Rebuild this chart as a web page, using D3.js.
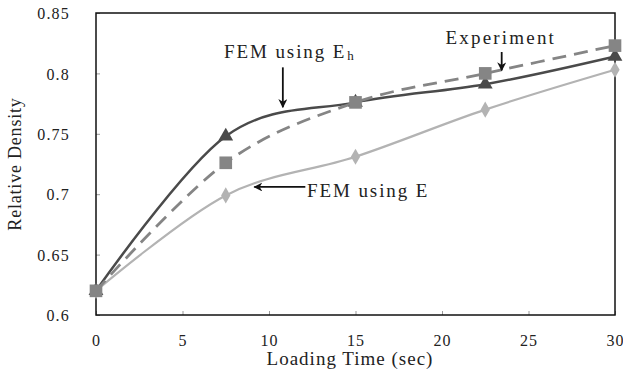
<!DOCTYPE html>
<html>
<head>
<meta charset="utf-8">
<script src="https://cdn.jsdelivr.net/npm/d3@7"></script>
<style>
  body { margin: 0; background: #fff; }
</style>
</head>
<body>
<div class="canvas"></div>
<script>
var width = 623,
   height = 381;

var margin = {top: 13, right: 8, bottom: 66, left: 96};
var serif = '"Liberation Serif"';

// data
var times = [0, 7.5, 15, 22.5, 30];
var experiment = [0.62, 0.726, 0.776, 0.800, 0.823];
var femEh = [0.62, 0.748, 0.776, 0.791, 0.814];
var femE = [0.62, 0.699, 0.731, 0.770, 0.803];

var xTicks = [0, 5, 10, 15, 20, 25, 30];
var yTicks = [0.6, 0.65, 0.7, 0.75, 0.8, 0.85];

var x = d3.scaleLinear()
   .domain([0, 30])
   .range([margin.left, width - margin.right]);

var y = d3.scaleLinear()
   .domain([0.6, 0.85])
   .range([height - margin.bottom, margin.top]);

const svg = d3.select('.canvas')
   .append('svg')
   .attr('width', width)
   .attr('height', height);

svg.append('defs').append('marker')
   .attr('id', 'arrow')
   .attr('viewBox', '0 0 10 10')
   .attr('refX', 9)
   .attr('refY', 5)
   .attr('markerWidth', 9)
   .attr('markerHeight', 9)
   .attr('markerUnits', 'userSpaceOnUse')
   .attr('orient', 'auto')
   .append('path')
      .attr('d', 'M0,0 L10,5 L0,10 L3,5 Z')
      .attr('fill', '#111');

// axes (ticks point inward)
var xAxis = d3.axisBottom(x).tickValues(xTicks).tickSize(-4).tickPadding(20);
var yAxis = d3.axisLeft(y).tickValues(yTicks).tickSize(-4).tickPadding(26)
   .tickFormat(d => String(+d.toFixed(2)));

svg.append('g')
   .attr('transform', `translate(0,${height - margin.bottom})`)
   .call(xAxis)
   .attr('font-family', 'Liberation Serif')
   .attr('font-size', 16)
   .call(g => g.select('.domain').remove())
   .call(g => g.selectAll('.tick line').attr('stroke', '#999'))
   .call(g => g.selectAll('.tick text').attr('fill', '#222').style('letter-spacing', '1px'));

svg.append('g')
   .attr('transform', `translate(${margin.left},0)`)
   .call(yAxis)
   .attr('font-family', 'Liberation Serif')
   .attr('font-size', 16)
   .call(g => g.select('.domain').remove())
   .call(g => g.selectAll('.tick line').attr('stroke', '#999'))
   .call(g => g.selectAll('.tick text').attr('fill', '#222').attr('dy', '0.35em').style('letter-spacing', '1.2px'));

// frame
svg.append('rect')
   .attr('x', x(0))
   .attr('y', y(0.85))
   .attr('width', x(30) - x(0))
   .attr('height', y(0.6) - y(0.85))
   .attr('fill', 'none')
   .attr('stroke', '#111')
   .attr('stroke-width', 1.5);

svg.append('text')
   .attr('x', 350)
   .attr('y', 365)
   .attr('text-anchor', 'middle')
   .style('font-family', serif)
   .style('font-size', '19px')
   .style('letter-spacing', '1px')
   .attr('fill', '#222')
   .text('Loading Time (sec)');

svg.append('text')
   .attr('transform', `translate(21,${(y(0.6) + y(0.85)) / 2}) rotate(-90)`)
   .attr('text-anchor', 'middle')
   .style('font-family', serif)
   .style('font-size', '18px')
   .style('letter-spacing', '0.8px')
   .attr('fill', '#222')
   .text('Relative Density');

var line = d3.line()
   .x(d => x(d[0]))
   .y(d => y(d[1]))
   .curve(d3.curveCardinal.tension(0));

var series = [
   {name: 'E', values: femE, color: '#b3b3b3', width: 2.2, dash: null, shape: 'diamond'},
   {name: 'Eh', values: femEh, color: '#4a4a4a', width: 2.5, dash: null, shape: 'triangle'},
   {name: 'Experiment', values: experiment, color: '#858585', width: 2.8, dash: '14,8', shape: 'square'}
];

series.forEach(s => {
   var pts = times.map((t, i) => [t, s.values[i]]);
   svg.append('path')
      .datum(pts)
      .attr('d', line)
      .attr('fill', 'none')
      .attr('stroke', s.color)
      .attr('stroke-width', s.width)
      .attr('stroke-dasharray', s.dash);
});

var symbols = {
   diamond: d3.symbol().type(d3.symbolDiamond).size(75),
   triangle: d3.symbol().type(d3.symbolTriangle).size(95),
   square: d3.symbol().type(d3.symbolSquare).size(160)
};

series.forEach(s => {
   svg.append('g')
      .selectAll('path')
      .data(times.map((t, i) => [t, s.values[i]]))
      .enter().append('path')
         .attr('transform', d => `translate(${x(d[0])},${y(d[1])})`)
         .attr('d', symbols[s.shape])
         .attr('fill', s.color);
});

// annotations
function arrow(x1, y1, x2, y2) {
   svg.append('line')
      .attr('x1', x1).attr('y1', y1)
      .attr('x2', x2).attr('y2', y2)
      .attr('stroke', '#111')
      .attr('stroke-width', 1.8)
      .attr('marker-end', 'url(#arrow)');
}

function label(tx, ty, str, ls) {
   return svg.append('text')
      .attr('x', x(tx))
      .attr('y', y(ty))
      .style('font-family', serif)
      .style('font-size', '19px')
      .style('letter-spacing', ls + 'px')
      .attr('fill', '#222')
      .text(str);
}

label(7.4, 0.8125, 'FEM using E', 1.9)
   .append('tspan')
      .attr('dx', 1)
      .attr('dy', 2)
      .style('font-size', '13px')
      .text('h');
arrow(x(10.8), y(0.805), x(10.8), y(0.772));

label(20.2, 0.8245, 'Experiment', 2.2);
arrow(x(23.45), y(0.8177), x(23.45), y(0.8025));

label(12.2, 0.6977, 'FEM using E', 1.9);
arrow(x(12.1), y(0.706), x(9.15), y(0.706));
</script>
</body>
</html>
